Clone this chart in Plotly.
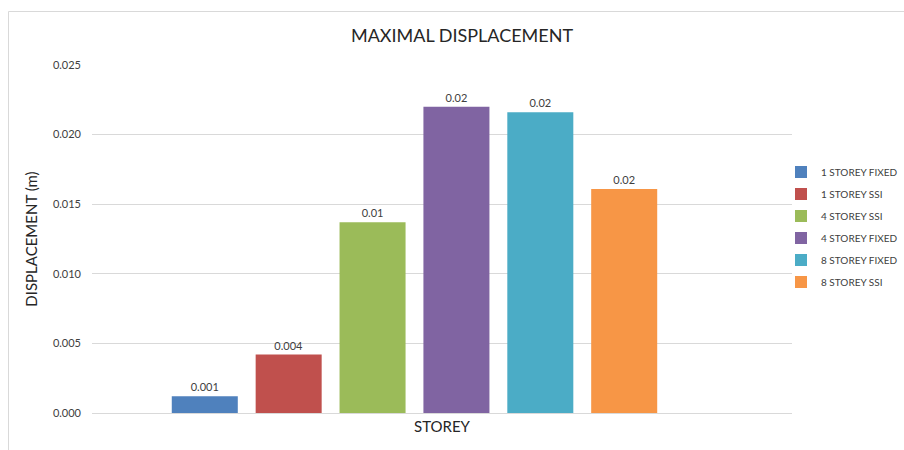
import plotly.graph_objects as go

series = ["1 STOREY FIXED", "1 STOREY SSI", "4 STOREY SSI", "4 STOREY FIXED", "8 STOREY FIXED", "8 STOREY SSI"]
values = [0.0012, 0.0042, 0.0137, 0.0220, 0.0216, 0.0161]
labels = ["0.001", "0.004", "0.01", "0.02", "0.02", "0.02"]
colors = ["#4F81BD", "#C0504D", "#9BBB59", "#8064A2", "#4BACC6", "#F79646"]
category = [""]
y_ticks = [0.000, 0.005, 0.010, 0.015, 0.020, 0.025]
y_ticktext = ["0.000", "0.005", "0.010", "0.015", "0.020", "0.025"]

FONT = "Lato, 'Liberation Sans', Arial, sans-serif"

fig = go.Figure()
for name, v, lab, c in zip(series, values, labels, colors):
    fig.add_trace(go.Bar(
        x=category, y=[v], name=name, text=[lab],
        textposition="outside", cliponaxis=False,
        textfont=dict(size=11, color="#404040", family=FONT),
        marker=dict(color=c, line=dict(width=0)),
        legendgroup=name,
    ))

fig.update_layout(
    width=904, height=450,
    margin=dict(l=92, r=112, t=65, b=37, autoexpand=False),
    paper_bgcolor="white", plot_bgcolor="white",
    barmode="group", bargap=0.281, bargroupgap=0.213,
    font=dict(family=FONT, color="#595959", size=11),
    title=dict(text="MAXIMAL DISPLACEMENT", x=462 / 904, xanchor="center",
               y=1 - 36 / 450, yanchor="middle",
               font=dict(size=18, color="#262626", family=FONT)),
    showlegend=True,
    legend=dict(xref="container", yref="container", x=781 / 904, xanchor="left",
                y=1 - 227 / 450, yanchor="middle",
                font=dict(size=10, color="#404040", family=FONT),
                tracegroupgap=3, itemwidth=30, bgcolor="rgba(0,0,0,0)"),
    xaxis=dict(range=[-0.4607, 0.5393], showticklabels=False, showgrid=False,
               zeroline=False, showline=False, ticks="",
               title=dict(text="STOREY", font=dict(size=15, color="#262626", family=FONT), standoff=8)),
    yaxis=dict(range=[0, 0.025], tickvals=y_ticks, ticktext=y_ticktext,
               showgrid=True, gridcolor="#D9D9D9", gridwidth=1,
               zeroline=True, zerolinecolor="#D9D9D9", zerolinewidth=1,
               showline=False, ticks="", ticklabelstandoff=10,
               tickfont=dict(size=11, color="#404040", family=FONT),
               title=dict(text="DISPLACEMENT (m)", font=dict(size=15, color="#262626", family=FONT), standoff=11)),
    shapes=[dict(type="rect", xref="paper", yref="paper",
                 x0=(8.5 - 92) / 700, x1=1.5, y0=-0.5, y1=1 + (65 - 11.5) / 348,
                 line=dict(color="#D9D9D9", width=1), fillcolor="rgba(0,0,0,0)", layer="below")],
)

fig.write_html("out.html")
